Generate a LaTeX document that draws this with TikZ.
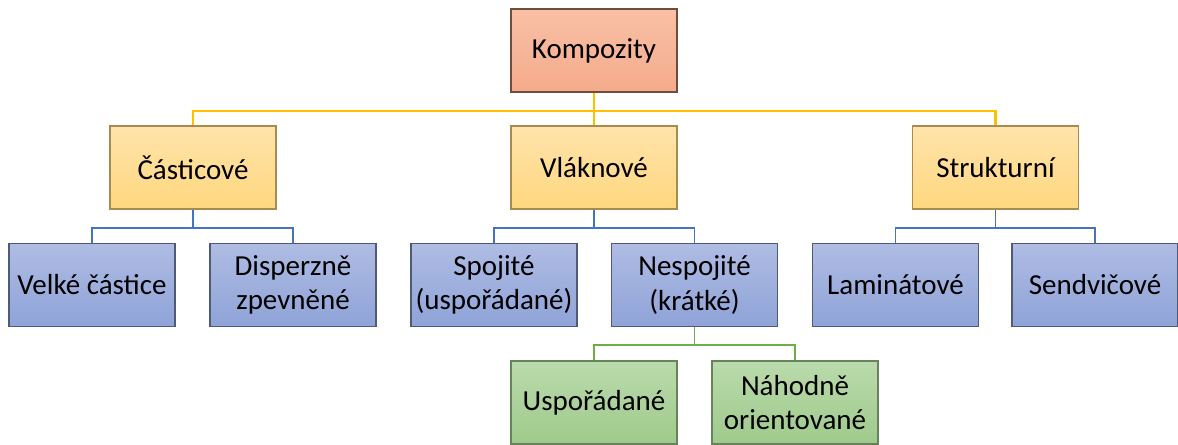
\documentclass[tikz,border=0pt]{standalone}
\usepackage{fontspec}
\setmainfont{Carlito}
\definecolor{korange}{HTML}{F5AB8B}
\definecolor{korangetop}{HTML}{F8C0A6}
\definecolor{kyellow}{HTML}{FFD77F}
\definecolor{kyellowtop}{HTML}{FFE3AA}
\definecolor{kblue}{HTML}{8FA3D8}
\definecolor{kbluetop}{HTML}{AFBCE3}
\definecolor{kgreen}{HTML}{9FCA8C}
\definecolor{kgreentop}{HTML}{BADAAB}
\definecolor{lyellow}{HTML}{FFC000}
\definecolor{lblue}{HTML}{4472C4}
\definecolor{lgreen}{HTML}{70AD47}
\tikzset{
  box/.style={rectangle,minimum width=3.32cm,minimum height=1.66cm,align=center,
    font=\fontsize{16.5}{19.5}\selectfont,inner sep=2pt,line width=0.7pt},
  topbox/.style={box,top color=korangetop,bottom color=korange,draw=black!55!korange},
  midbox/.style={box,top color=kyellowtop,bottom color=kyellow,draw=black!35!kyellow},
  lowbox/.style={box,top color=kbluetop,bottom color=kblue,draw=black!45!kblue},
  leafbox/.style={box,top color=kgreentop,bottom color=kgreen,draw=black!35!kgreen},
  ylink/.style={draw=lyellow,line width=1.2pt},
  blink/.style={draw=lblue,line width=1.1pt},
  glink/.style={draw=lgreen,line width=1.1pt}
}
\begin{document}
\begin{tikzpicture}[x=0.02cm,y=-0.02cm]
\useasboundingbox (0,0) rectangle (1178,444);
% root
\node[topbox] (komp) at (594,50.5) {Kompozity};
% second level
\node[midbox] (cast) at (193,167.5) {Částicové};
\node[midbox] (vlak) at (594,167.5) {Vláknové};
\node[midbox] (strk) at (995.5,167.5) {Strukturní};
% third level
\node[lowbox] (velk) at (92,285) {Velké částice};
\node[lowbox] (disp) at (293,285) {Disperzně\\zpevněné};
\node[lowbox] (spoj) at (494,285) {Spojité\\(uspořádané)};
\node[lowbox] (nesp) at (694.5,285) {Nespojité\\(krátké)};
\node[lowbox] (lamn) at (895.5,285) {Laminátové};
\node[lowbox] (send) at (1095,285) {Sendvičové};
% fourth level
\node[leafbox] (uspo) at (594,402.5) {Uspořádané};
\node[leafbox] (naho) at (795,402.5) {Náhodně\\orientované};
% links
\foreach \c in {cast,vlak,strk}{\draw[ylink](komp.south)--++(0,18)-|(\c.north);}
\foreach \p/\c in {cast/velk,cast/disp,vlak/spoj,vlak/nesp,strk/lamn,strk/send}{\draw[blink](\p.south)--++(0,18)-|(\c.north);}
\foreach \c in {uspo,naho}{\draw[glink](nesp.south)--++(0,18)-|(\c.north);}
\end{tikzpicture}
\end{document}
